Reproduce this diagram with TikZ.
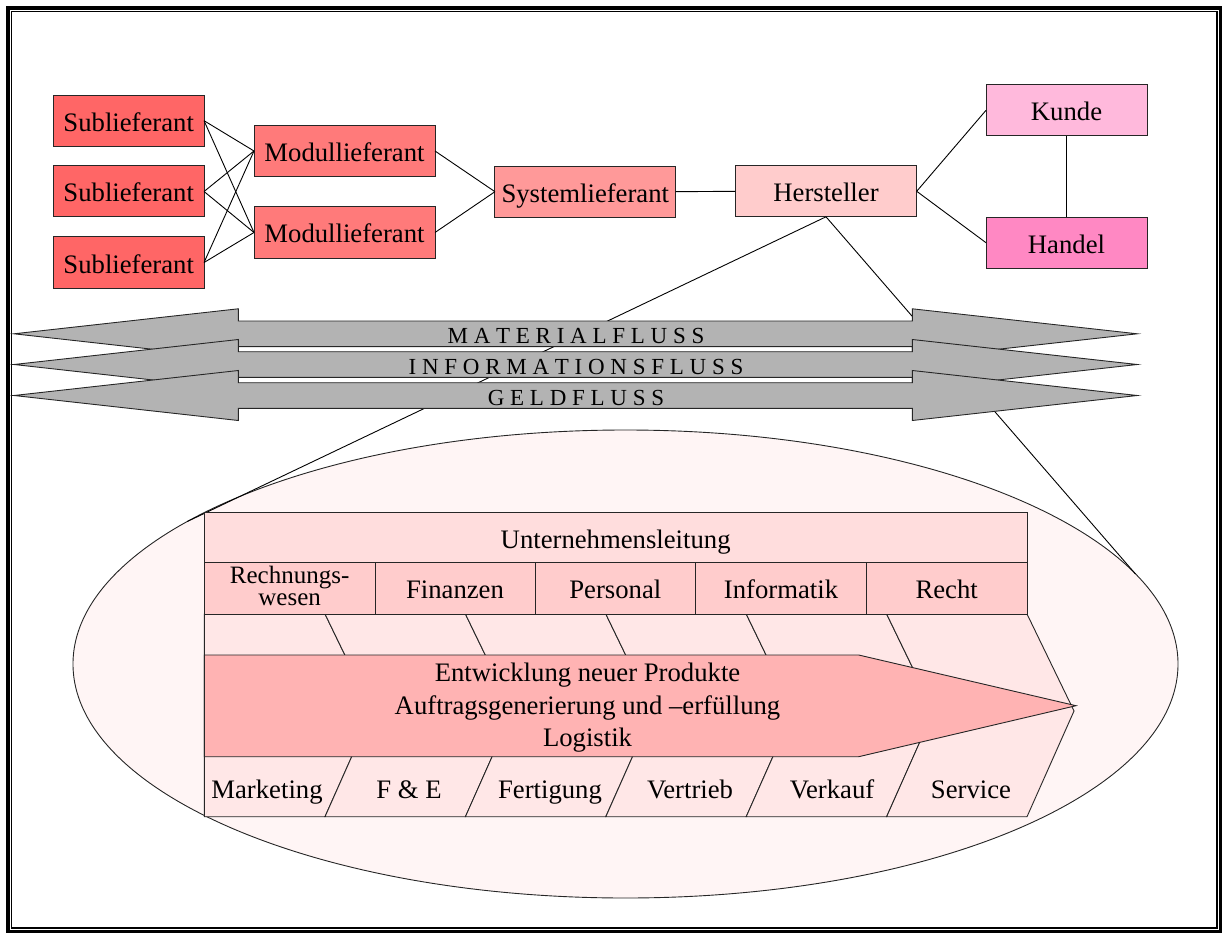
\documentclass[tikz,border=0pt]{standalone}
\usepackage{fontspec}
\setmainfont{Liberation Serif}
\usetikzlibrary{shapes.geometric}

\definecolor{csub}{HTML}{FF6666}
\definecolor{cmod}{HTML}{FF7A7A}
\definecolor{csys}{HTML}{FF9999}
\definecolor{cher}{HTML}{FFCCCC}
\definecolor{ckun}{HTML}{FFB9DC}
\definecolor{chan}{HTML}{FF88C3}
\definecolor{cflow}{HTML}{B3B3B3}
\definecolor{cdetail}{HTML}{FFF5F5}
\definecolor{clead}{HTML}{FFDDDD}
\definecolor{cdept}{HTML}{FFCCCC}
\definecolor{ccell}{HTML}{FFE7E7}
\definecolor{cproc}{HTML}{FFB3B3}
\definecolor{edge}{HTML}{262626}

\begin{document}
\begin{tikzpicture}[x=1pt,y=-1pt,
  box/.style={draw=edge, line width=1pt, inner sep=0pt, outer sep=0pt,
    minimum height=51pt, text height=22pt, text depth=1pt,
    font=\fontsize{26.7}{32}\selectfont},
  link/.style={line width=0.9pt, black},
  flowarrow/.style={draw=edge, line width=0.9pt, fill=cflow},
  flowlabel/.style={anchor=base, inner sep=0pt, font=\fontsize{23}{27}\selectfont},
  cell/.style={draw=edge, line width=0.9pt, fill=ccell},
  lbl/.style={anchor=base, inner sep=0pt, font=\fontsize{26.7}{32}\selectfont}]

\useasboundingbox (0,0) rectangle (1222,933);

% double frame
\draw[line width=4pt] (8,8) rectangle (1221.3,931.7);
\draw[line width=1.3pt] (11.7,11.7) rectangle (1217.1,928.1);

% supply chain
\node[box, fill=csub, minimum width=150.7pt] (s1) at (128.7,120.7) {Sublieferant};
\node[box, fill=csub, minimum width=150.7pt] (s2) at (128.7,191.5) {Sublieferant};
\node[box, fill=csub, minimum width=150.7pt] (s3) at (128.7,262.5) {Sublieferant};
\node[box, fill=cmod, minimum width=181pt] (m1) at (344.5,151) {Modullieferant};
\node[box, fill=cmod, minimum width=181pt] (m2) at (344.5,232.5) {Modullieferant};
\node[box, fill=csys, minimum width=180.7pt] (sys) at (585.3,191.7) {Systemlieferant};
\node[box, fill=cher, minimum width=181.4pt] (her) at (826,191.3) {Hersteller};
\node[box, fill=ckun, minimum width=161pt] (kun) at (1066.5,110.3) {Kunde};
\node[box, fill=chan, minimum width=161pt] (han) at (1066.5,242.7) {Handel};

\foreach \s in {s1,s2,s3}
  \foreach \m in {m1,m2}
    \draw[link] (\s.east) -- (\m.west);
\draw[link] (m1.east) -- (sys.west);
\draw[link] (m2.east) -- (sys.west);
\draw[link] (sys.east) -- (her.west);
\draw[link] (her.east) -- (kun.west);
\draw[link] (her.east) -- (han.west);
\draw[link] (kun.south) -- (han.north);

% enlarged view of the manufacturer
\node[draw=edge, line width=0.9pt, fill=cdetail, ellipse, inner sep=0pt, outer sep=0pt,
      minimum width=1105pt, minimum height=468pt] (detail) at (625.5,664) {};
\draw[link] (her.south) -- (detail.162);
\draw[link] (her.south) -- (detail.10);

% material, information and money flows
\foreach \c/\txt [count=\k] in {333.8/M A T E R I A L F L U S S,
                                 364.5/I N F O R M A T I O N S F L U S S,
                                 395.5/G E L D F L U S S} {
  \draw[flowarrow] (14,\c) -- (238.3,\c-25) -- (238.3,\c-12.8) -- (912.3,\c-12.8)
    -- (912.3,\c-25) -- (1137.3,\c) -- (912.3,\c+25) -- (912.3,\c+12.8)
    -- (238.3,\c+12.8) -- (238.3,\c+25) -- cycle;
  \node[flowlabel] (flow\k) at (576,\c+9.5) {\txt};
}

% value chain cells
\draw[cell] (204.3,614) -- (325,614) -- (372,711) -- (325,816.7) -- (204.3,816.7) -- cycle;
\foreach \a/\b in {325/465.4, 465.4/605.8, 605.8/746.2, 746.2/886.6, 886.6/1027}
  \draw[cell] (\a,614) -- (\b,614) -- (\b+47,711) -- (\b,816.7) -- (\a,816.7) -- (\a+47,711) -- cycle;

% management and support functions
\node[box, fill=clead, minimum width=822.7pt, minimum height=50pt] (lead) at (615.65,537.7) {Unternehmensleitung};
\node[box, fill=cdept, minimum width=170.7pt, minimum height=51.3pt] (rw) at (289.65,588.35) {};
\node[align=center, inner sep=0pt, font=\fontsize{25}{22}\selectfont] (rwtext)
  at ([yshift=2.5pt]rw.center) {Rechnungs-\\wesen};
\node[box, fill=cdept, minimum width=160pt, minimum height=51.3pt] (fin) at (455,588.35) {Finanzen};
\node[box, fill=cdept, minimum width=160.7pt, minimum height=51.3pt] (per) at (615.35,588.35) {Personal};
\node[box, fill=cdept, minimum width=170.6pt, minimum height=51.3pt] (inf) at (781,588.35) {Informatik};
\node[box, fill=cdept, minimum width=160.7pt, minimum height=51.3pt] (rec) at (946.65,588.35) {Recht};

% core processes
\draw[draw=edge, line width=0.9pt, fill=cproc] (204.3,655) -- (858.7,655) -- (1076,705.7)
  -- (858.7,756.7) -- (204.3,756.7) -- cycle;
\node[align=center, inner sep=0pt, font=\fontsize{26.7}{32.5}\selectfont] (proc) at (587.5,708)
  {Entwicklung neuer Produkte\\Auftragsgenerierung und –erfüllung\\Logistik};

% primary activities
\node[lbl] (mkt) at (267,798) {Marketing};
\node[lbl] (fe)  at (409,798) {F \& E};
\node[lbl] (fer) at (550,798) {Fertigung};
\node[lbl] (ver) at (690,798) {Vertrieb};
\node[lbl] (vk)  at (832,798) {Verkauf};
\node[lbl] (svc) at (971,798) {Service};

\end{tikzpicture}
\end{document}
